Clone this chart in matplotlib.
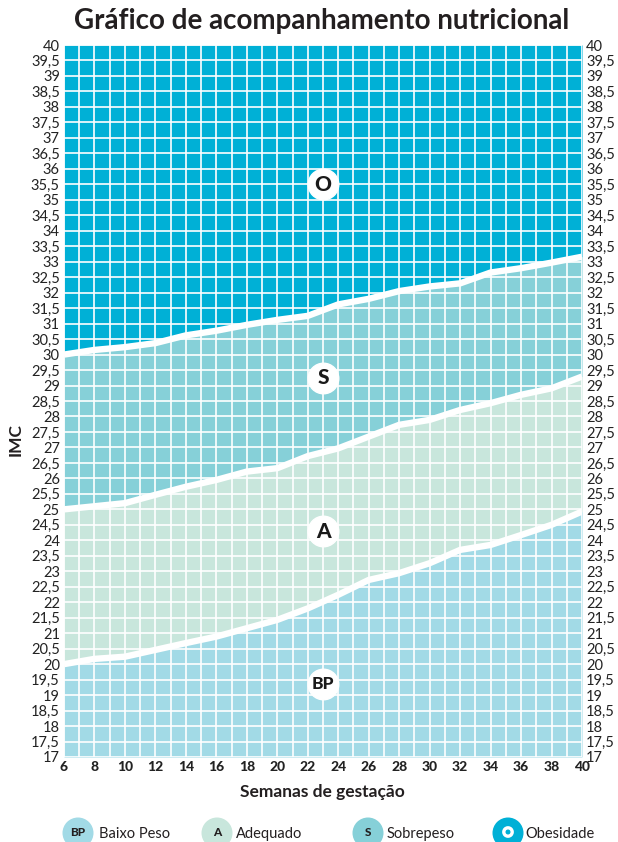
import matplotlib
matplotlib.use("Agg")
import matplotlib.pyplot as plt
from matplotlib.patches import Circle
import numpy as np

# ---------------- data ----------------
weeks = [6, 8, 10, 12, 14, 16, 18, 20, 22, 24, 26, 28, 30, 32, 34, 36, 38, 40]
limit_obesidade = [30.0, 30.15, 30.24, 30.37, 30.62, 30.77, 30.96, 31.12, 31.25, 31.62,
                   31.8, 32.05, 32.2, 32.3, 32.65, 32.79, 32.97, 33.16]
limit_sobrepeso = [25.0, 25.1, 25.2, 25.47, 25.73, 25.95, 26.22, 26.33, 26.72, 26.97,
                   27.35, 27.73, 27.89, 28.21, 28.43, 28.70, 28.91, 29.29]
limit_adequado = [20.0, 20.17, 20.24, 20.46, 20.68, 20.89, 21.16, 21.43, 21.8, 22.24,
                  22.72, 22.94, 23.26, 23.69, 23.85, 24.17, 24.5, 24.93]
y_min, y_max = 17, 40
x_ticks = list(range(6, 41, 2))
y_ticks = [17 + 0.5 * i for i in range(47)]
zone_codes = ["BP", "A", "S", "O"]
zone_names = ["Baixo Peso", "Adequado", "Sobrepeso", "Obesidade"]
zone_label_pos = [(23, 19.35), (23, 24.3), (23, 29.25), (23, 35.5)]
title = "Gráfico de acompanhamento nutricional"
xlabel = "Semanas de gestação"
ylabel = "IMC"

colors = ["#a2dae6", "#c8e6dc", "#86d0d8", "#00b0d6"]

plt.rcParams['font.family'] = ['Lato', 'DejaVu Sans']

W, H = 618, 842
fig = plt.figure(figsize=(W / 100, H / 100), dpi=100)
fig.patch.set_facecolor("white")

left, right, top, bottom = 64, 582, 45, 757
ax = fig.add_axes([left / W, (H - bottom) / H, (right - left) / W, (bottom - top) / H])

x = np.array(weeks, dtype=float)
ax.fill_between(x, y_min, limit_adequado, color=colors[0], lw=0, zorder=1)
ax.fill_between(x, limit_adequado, limit_sobrepeso, color=colors[1], lw=0, zorder=1)
ax.fill_between(x, limit_sobrepeso, limit_obesidade, color=colors[2], lw=0, zorder=1)
ax.fill_between(x, limit_obesidade, y_max, color=colors[3], lw=0, zorder=1)

# grid
for wk in range(weeks[0], weeks[-1] + 1):
    ax.axvline(wk, color="white", lw=1.2, zorder=2)
for yv in y_ticks:
    ax.axhline(yv, color="white", lw=1.2, zorder=2)

for lim in (limit_adequado, limit_sobrepeso, limit_obesidade):
    ax.plot(x, lim, color="white", lw=4.6, solid_capstyle="butt", solid_joinstyle="round", zorder=3)

for code, (px, py) in zip(zone_codes, zone_label_pos):
    ax.plot([px], [py], marker="o", ms=22, color="white", mec="white", zorder=4)
    ax.text(px, py, code, ha="center", va="center", fontsize=15 if code != "BP" else 12.5,
            fontweight="black", color="#1a1a1a", zorder=5)

ax.set_xlim(weeks[0], weeks[-1])
ax.set_ylim(y_min, y_max)
for s in ax.spines.values():
    s.set_visible(False)

ax.set_yticks(y_ticks)
ax.set_yticklabels([("%g" % v).replace(".", ",") for v in y_ticks])
ax.set_xticks(x_ticks)
ax.set_xticklabels([str(v) for v in x_ticks], fontweight="black")
ax.tick_params(axis="y", length=0, pad=3, labelsize=10.5, labelleft=True, labelright=True,
               colors="#222222")
ax.tick_params(axis="x", length=0, pad=3, labelsize=10, colors="#222222")

fig.text(322 / W, 1 - 21 / H, title, ha="center", va="center", fontsize=20,
         fontweight="bold", color="#231f20")
fig.text(322 / W, 1 - 792 / H, xlabel, ha="center", va="center", fontsize=12.5,
         fontweight="bold", color="#231f20")
fig.text(16 / W, 1 - 440 / H, ylabel, ha="center", va="center", fontsize=12.5,
         fontweight="bold", rotation=90, color="#231f20")

# legend (pixel coordinates overlay)
lax = fig.add_axes([0, 0, 1, 1])
lax.set_xlim(0, W)
lax.set_ylim(H, 0)
lax.axis("off")
leg_circle_x = [78, 217, 368, 508]
leg_text_x = [99, 236, 387, 525]
leg_y = 833
for cx, tx, code, name, col in zip(leg_circle_x, leg_text_x, zone_codes, zone_names, colors):
    lax.add_patch(Circle((cx, leg_y), 15.5, color=col, lw=0))
    if code == "O":
        lax.add_patch(Circle((cx, leg_y - 1), 4.2, facecolor="none", edgecolor="white", lw=2.4))
    else:
        lax.text(cx, leg_y - 1, code, ha="center", va="center", fontsize=8.5,
                 fontweight="black", color="#231f20")
    lax.text(tx, leg_y + 1, name, ha="left", va="center", fontsize=10.5, color="#231f20")

fig.savefig("out.png", dpi=100)
